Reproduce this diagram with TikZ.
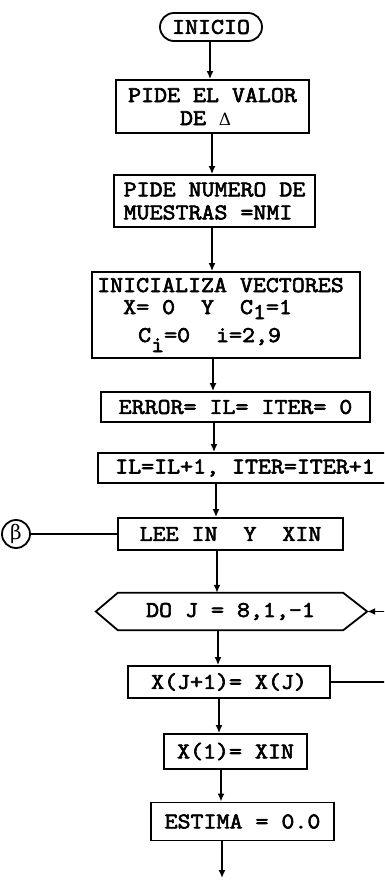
\documentclass[tikz,border=0pt]{standalone}
\usepackage{fontspec}
\setmainfont{Latin Modern Mono}[FakeStretch=1.12, FakeBold=2.8]
\newfontfamily\grk{DejaVu Serif}
\usetikzlibrary{arrows.meta,calc}
\begin{document}
\begin{tikzpicture}[x=1pt,y=-1pt,
  every node/.style={font=\fontsize{22.5}{23}\selectfont, inner sep=0pt},
  ln/.style={line width=1.8pt},
  box/.style={draw, ln},
  flow/.style={ln, -{Latex[length=8pt,width=7pt]}},
  txt/.style={anchor=base west}]
\useasboundingbox (0,0) rectangle (384,883);
\fill[white] (0,0) rectangle (384,883);
\clip (0,0) rectangle (384,883);

% process blocks
\node[box, rounded corners=14pt, minimum width=102pt, minimum height=28pt] (inicio) at (211,27) {INICIO};
\node[box, minimum width=193pt, minimum height=53pt, align=left] (valor) at (212.5,106.5) {PIDE EL VALOR\\~~~~DE {\grk\fontsize{17}{17}\selectfont Δ}};
\node[box, minimum width=201pt, minimum height=52pt, align=left] (nmi) at (214.5,201) {PIDE NUMERO DE\\MUESTRAS =NMI};
\node[box, minimum width=268pt, minimum height=86pt] (init) at (226,315) {};
\node[txt] (init1) at (97,292) {INICIALIZA VECTORES};
\node[txt] (init2) at (123,314) {X=~0~~Y~~C\raisebox{-5pt}{1}=1};
\node[txt] (init3) at (138,342) {C\raisebox{-10pt}{i}=0~~i=2,9};
\node[box, minimum width=269pt, minimum height=30pt] (error) at (235.5,407) {ERROR= IL= ITER= 0};
\node[box, minimum width=294pt, minimum height=30pt] (il) at (245,468) {IL=IL+1, ITER=ITER+1};
\node[box, minimum width=225pt, minimum height=32pt] (lee) at (230.5,534) {LEE IN~~Y~~XIN~};
\node[draw, ln, circle, minimum size=28pt, font=\grk\fontsize{20}{20}\selectfont] (beta) at (16,534) {β};

% DO loop header (hexagon)
\node[minimum width=225pt, minimum height=37pt] (do) at (230.5,611.5) {DO J = 8,1,-1};
\coordinate (dor) at ($(do.east)+(24,0)$);
\coordinate (dol) at ($(do.west)+(-22,0)$);
\draw[ln, line join=miter] (do.north west) -- (do.north east) -- (dor) -- (do.south east)
  -- (do.south west) -- (dol) -- cycle;

\node[box, minimum width=202pt, minimum height=32pt] (xj) at (229,682) {X(J+1)= X(J)};
\node[box, minimum width=143pt, minimum height=35pt] (x1) at (235.5,751.5) {X(1)= XIN};
\node[box, minimum width=183pt, minimum height=38pt] (est) at (242.5,821.5) {ESTIMA = 0.0};

% main flow line
\coordinate (c1) at (210,0);
\coordinate (c2) at (212,0);
\coordinate (c3) at (212,0);
\coordinate (c4) at (213,0);
\coordinate (c5) at (214,0);
\coordinate (c6) at (216,0);
\coordinate (c7) at (217,0);
\coordinate (c8) at (218,0);
\coordinate (c9) at (219,0);
\coordinate (c10) at (221,0);
\coordinate (c11) at (222,878);
\draw[flow] (c1 |- inicio.south) -- (c1 |- valor.north);
\draw[flow] (c2 |- valor.south) -- (c2 |- nmi.north);
\draw[flow] (c3 |- nmi.south) -- (c3 |- init.north);
\draw[flow] (c4 |- init.south) -- (c4 |- error.north);
\draw[flow] (c5 |- error.south) -- (c5 |- il.north);
\draw[flow] (c6 |- il.south) -- (c6 |- lee.north);
\draw[flow] (c7 |- lee.south) -- (c7 |- do.north);
\draw[flow] (c8 |- do.south) -- (c8 |- xj.north);
\draw[flow] (c9 |- xj.south) -- (c9 |- x1.north);
\draw[flow] (c10 |- x1.south) -- (c10 |- est.north);
\draw[flow] (c11 |- est.south) -- (c11);

% off-page connector and loop return
\draw[ln] (beta.east) -- (lee.west);
\coordinate (loopin) at (392,0);
\draw[flow] (loopin |- dor) -- (dor);
\draw[ln] (xj.east) -- (loopin |- xj.east);
\end{tikzpicture}
\end{document}
